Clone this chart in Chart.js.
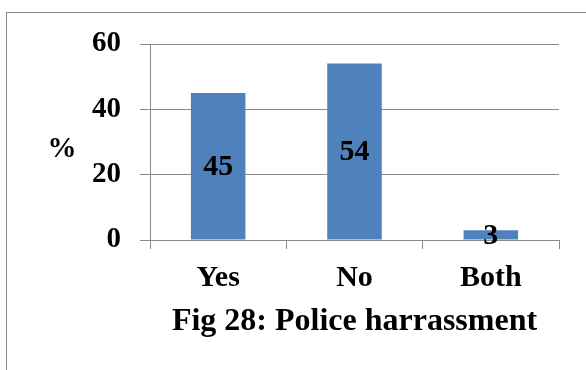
<!DOCTYPE html>
<html>
<head>
<meta charset="utf-8">
<title>Police harrassment</title>
<script src="https://cdn.jsdelivr.net/npm/chart.js@4.4.0/dist/chart.umd.min.js"></script>
<style>
    html, body { margin: 0; padding: 0; background: #fff; overflow: hidden; }
    #frame { position: absolute; left: 6px; top: 12px; width: 700px; height: 500px; border: 1px solid #888; }
    #wrap { position: absolute; left: 0; top: 0; width: 586px; height: 370px; }
</style>
</head>
<body>
<div id="frame"></div>
<div id="wrap"><canvas id="harassChart" width="586" height="370"></canvas></div>
<script>
const categories = ['Yes', 'No', 'Both'];
const percentages = [45, 54, 3];
const yTicks = [0, 20, 40, 60];
const chartTitle = 'Fig 28: Police harrassment';
const yAxisLabel = '%';

const serif = '"Liberation Serif", "Times New Roman", serif';
const lineGrey = '#8a8a8a';

// value printed in the middle of each bar
const barValues = {
    id: 'barValues',
    afterDatasetsDraw(chart) {
        const ctx = chart.ctx;
        const meta = chart.getDatasetMeta(0);
        ctx.save();
        ctx.font = 'bold 30px ' + serif;
        ctx.fillStyle = '#000';
        ctx.textAlign = 'center';
        ctx.textBaseline = 'middle';
        meta.data.forEach((bar, i) => {
            const mid = (bar.y + bar.base) / 2;
            ctx.fillText(String(chart.data.datasets[0].data[i]), bar.x, mid + 1);
        });
        ctx.restore();
    }
};

// unrotated "%" beside the value axis
const percentSign = {
    id: 'percentSign',
    afterDraw(chart) {
        const ctx = chart.ctx;
        ctx.save();
        ctx.font = 'bold 29px ' + serif;
        ctx.fillStyle = '#000';
        ctx.textAlign = 'center';
        ctx.textBaseline = 'alphabetic';
        ctx.fillText(yAxisLabel, 62, 157);
        ctx.restore();
    }
};

const ctx = document.getElementById('harassChart').getContext('2d');
const harassChart = new Chart(ctx, {
    type: 'bar',
    data: {
        labels: categories,
        datasets: [{
            label: 'Police harrassment',
            data: percentages,
            backgroundColor: '#4F81BD',
            borderWidth: 0,
            categoryPercentage: 1,
            barPercentage: 0.4
        }]
    },
    options: {
        responsive: false,
        animation: false,
        layout: { padding: { top: 44, right: 27, bottom: 0, left: 0 } },
        plugins: {
            legend: { display: false },
            tooltip: { enabled: false }
        },
        scales: {
            x: {
                grid: {
                    display: true,
                    drawOnChartArea: false,
                    drawTicks: true,
                    tickLength: 9,
                    color: lineGrey,
                    offset: true
                },
                border: { display: true, color: lineGrey },
                ticks: {
                    color: '#000',
                    padding: 11,
                    font: { family: serif, size: 30, weight: 'bold' }
                },
                title: {
                    display: true,
                    text: chartTitle,
                    color: '#000',
                    padding: { top: 0, bottom: 29 },
                    font: { family: serif, size: 32, weight: 'bold' }
                },
                afterFit(scale) { scale.height = 130; }
            },
            y: {
                min: 0,
                max: 60,
                afterBuildTicks(scale) { scale.ticks = yTicks.map(v => ({ value: v })); },
                grid: {
                    color: lineGrey,
                    drawTicks: true,
                    tickLength: 10
                },
                border: { display: true, color: lineGrey },
                ticks: {
                    color: '#000',
                    padding: 19,
                    font: { family: serif, size: 29, weight: 'bold' }
                },
                afterFit(scale) { scale.width = 150; }
            }
        }
    },
    plugins: [barValues, percentSign]
});
</script>
</body>
</html>
